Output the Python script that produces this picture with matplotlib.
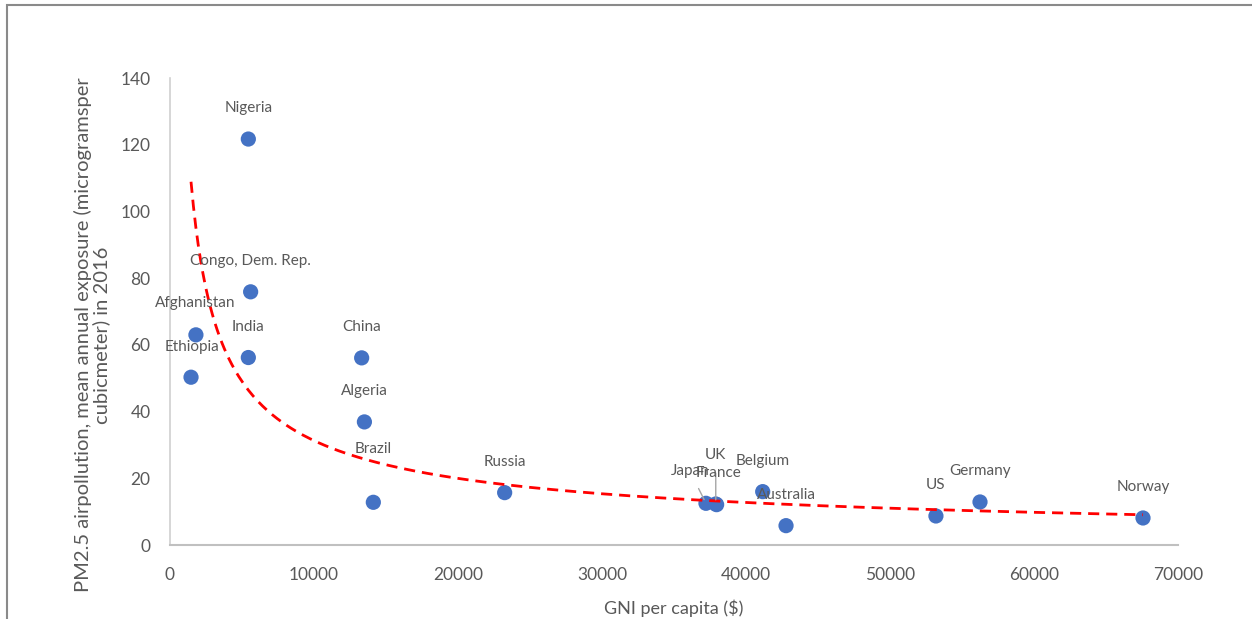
import numpy as np
import matplotlib
matplotlib.use("Agg")
import matplotlib.pyplot as plt
from matplotlib.patches import Rectangle

countries = ["Ethiopia", "Afghanistan", "Nigeria", "Congo, Dem. Rep.", "India", "China",
             "Algeria", "Brazil", "Russia", "Japan", "UK", "France", "Belgium",
             "Australia", "US", "Germany", "Norway"]
gni = [1460, 1800, 5440, 5600, 5440, 13310, 13500, 14120, 23240, 37220, 37900, 37960,
       41160, 42780, 53190, 56250, 67570]
pm25 = [50.3, 63.0, 121.7, 75.9, 56.2, 56.1, 36.9, 12.8, 15.7, 12.5, 12.3, 12.1,
        16.0, 5.8, 8.7, 12.9, 8.1]
xticks = [0, 10000, 20000, 30000, 40000, 50000, 60000, 70000]
yticks = [0, 20, 40, 60, 80, 100, 120, 140]

# label offsets in pixels (dx, dy) and optional leader line
label_offsets = {
    "Afghanistan": (-1, 32), "Ethiopia": (1, 30), "Brazil": (0, 53),
    "Japan": (-16, 32), "UK": (0, 49), "France": (2, 32),
}
leaders = {"Japan", "UK"}

W, H = 1252, 619
fig = plt.figure(figsize=(W / 100, H / 100), dpi=100)
plt.rcParams['font.family'] = ['Lato', 'DejaVu Sans']

# outer frame (top and left visible)
fig.patches.append(Rectangle((7 / W, -0.1), 1.2, (H - 5) / H + 0.1, transform=fig.transFigure,
                             fill=False, edgecolor="#8a8a8a", linewidth=1.5))

ax = fig.add_axes([170 / W, (H - 545) / H, (1178 - 170) / W, (545 - 78) / H])
ax.set_xlim(0, 70000)
ax.set_ylim(0, 140)

# power trendline from least squares on log-log data
lx, ly = np.log(gni), np.log(pm25)
b, lna = np.polyfit(lx, ly, 1)
xs = np.linspace(min(gni), max(gni), 400)
ys = np.exp(lna) * xs ** b
ax.plot(xs, ys, color="#FF0000", linewidth=2.0, dashes=(4, 2.5), zorder=3)

ax.scatter(gni, pm25, s=120, color="#4472C4", edgecolors="none", zorder=2)

for c, x, y in zip(countries, gni, pm25):
    dx, dy = label_offsets.get(c, (0, 31))
    kw = {}
    if c in leaders:
        kw["arrowprops"] = dict(arrowstyle="-", color="#a6a6a6", lw=1.0, shrinkA=6, shrinkB=3)
    ax.annotate(c, (x, y), xytext=(dx, dy), textcoords="offset pixels",
                ha="center", va="center", fontsize=11, color="#595959", zorder=4, **kw)

ax.set_xticks(xticks)
ax.set_yticks(yticks)
ax.set_xticklabels([str(v) for v in xticks])
ax.set_yticklabels([str(v) for v in yticks])
ax.tick_params(axis="both", length=0, labelsize=12.5, labelcolor="#595959")
ax.tick_params(axis="x", pad=16)
ax.tick_params(axis="y", pad=14)
for s in ["top", "right"]:
    ax.spines[s].set_visible(False)
ax.spines["left"].set_color("#d0d0d0")
ax.spines["bottom"].set_color("#c0c0c0")
ax.spines["left"].set_linewidth(1.2)
ax.spines["bottom"].set_linewidth(1.5)

ax.set_xlabel("GNI per capita ($)", fontsize=13, color="#595959", labelpad=12)
fig.text(92 / W, 1 - 335 / H,
         "PM2.5 airpollution, mean annual exposure (microgramsper\ncubicmeter) in 2016",
         rotation=90, ha="center", va="center", fontsize=14.5, color="#595959",
         multialignment="center", linespacing=1.05)

fig.savefig("out.png", dpi=100)
